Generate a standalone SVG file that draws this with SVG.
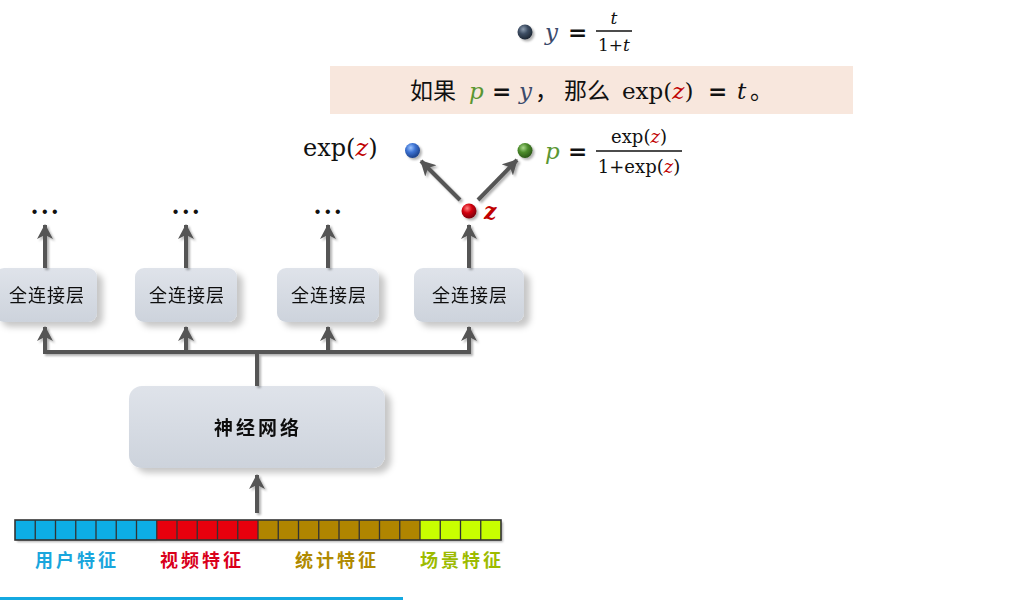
<svg xmlns="http://www.w3.org/2000/svg" width="1030" height="600" viewBox="0 0 1030 600">
<style>
.cjk{font-family:"Noto Sans CJK SC","Noto Sans",sans-serif}
.math{font-family:"DejaVu Serif","Liberation Serif",serif}
.it{font-style:italic}
.fc{font-size:18px;fill:#111;letter-spacing:1px}
.lab{font-size:18px;font-weight:bold;letter-spacing:3px}
.ln{fill:none;stroke:#555;stroke-width:4}
.box{stroke:none}
</style>
<defs>
<linearGradient id="gBox" x1="0" y1="0" x2="0" y2="1">
<stop offset="0" stop-color="#DFE3EA"/>
<stop offset="1" stop-color="#CDD3DC"/>
</linearGradient>
<radialGradient id="gRed" cx="0.38" cy="0.32" r="0.7">
<stop offset="0" stop-color="#FF8080"/><stop offset="0.45" stop-color="#D4000E"/><stop offset="1" stop-color="#7A0008"/>
</radialGradient>
<radialGradient id="gBlue" cx="0.38" cy="0.32" r="0.7">
<stop offset="0" stop-color="#9CC4FF"/><stop offset="0.45" stop-color="#3C72D2"/><stop offset="1" stop-color="#1B3F86"/>
</radialGradient>
<radialGradient id="gGreen" cx="0.38" cy="0.32" r="0.7">
<stop offset="0" stop-color="#A9D88A"/><stop offset="0.45" stop-color="#4C8C2C"/><stop offset="1" stop-color="#2A5616"/>
</radialGradient>
<radialGradient id="gDark" cx="0.38" cy="0.32" r="0.7">
<stop offset="0" stop-color="#8D9DB0"/><stop offset="0.45" stop-color="#3D4D63"/><stop offset="1" stop-color="#1D2734"/>
</radialGradient>
<filter id="sh" x="-20%" y="-20%" width="150%" height="160%">
<feDropShadow dx="6" dy="5" stdDeviation="3" flood-color="#000" flood-opacity="0.22"/>
</filter>
<filter id="shs" x="-50%" y="-50%" width="200%" height="200%">
<feDropShadow dx="2" dy="2" stdDeviation="1.2" flood-color="#000" flood-opacity="0.3"/>
</filter>
<marker id="ah" markerUnits="userSpaceOnUse" markerWidth="18" markerHeight="18" refX="14" refY="8" orient="auto">
<path d="M0,0 L15,8 L0,16 L4,8 Z" fill="#555"/>
</marker>
</defs>
<rect width="1030" height="600" fill="#fff"/>

<g id="formula-y">
<circle cx="525" cy="32" r="7.5" fill="url(#gDark)" filter="url(#shs)"/>
<text class="math it" x="545" y="40" font-size="23" fill="#3B4A6B">y</text>
<text class="math" x="568" y="40" font-size="23" font-weight="bold" fill="#111">=</text>
<text class="math it" x="614" y="24" font-size="17" fill="#111" text-anchor="middle">t</text>
<line x1="596" y1="31" x2="632" y2="31" stroke="#111" stroke-width="1.3"/>
<text class="math" x="614" y="51" font-size="17" fill="#111" text-anchor="middle">1+<tspan class="it">t</tspan></text>
</g>

<g id="note">
<rect x="330" y="66" width="523" height="48" fill="#F8E7DD"/>
<text y="99" font-size="23" fill="#111"><tspan class="cjk" x="410">如果</tspan><tspan class="math it" x="469" fill="#5A9632">p</tspan><tspan class="math" x="492" font-weight="bold">=</tspan><tspan class="math it" x="519" fill="#3B4A6B">y</tspan><tspan class="cjk" x="535">，</tspan><tspan class="cjk" x="564">那么</tspan><tspan class="math" x="622">exp(<tspan fill="#C00000" class="it">z</tspan>)</tspan><tspan class="math" x="708" font-weight="bold">=</tspan><tspan class="math it" x="737">t</tspan><tspan class="cjk" x="750">。</tspan></text>
</g>

<g id="expz">
<circle cx="412.5" cy="150.5" r="7.5" fill="url(#gBlue)" filter="url(#shs)"/>
<text class="math" x="303" y="156" font-size="24" fill="#111">exp(<tspan fill="#C00000" class="it">z</tspan>)</text>
</g>

<g id="p">
<circle cx="525" cy="150.5" r="7.5" fill="url(#gGreen)" filter="url(#shs)"/>
<text class="math it" x="545" y="159" font-size="23" fill="#5A9632">p</text>
<text class="math" x="568" y="159" font-size="23" font-weight="bold" fill="#111">=</text>
<text class="math" x="639" y="143" font-size="18" fill="#111" text-anchor="middle">exp(<tspan fill="#C00000" class="it">z</tspan>)</text>
<line x1="596" y1="151" x2="682" y2="151" stroke="#111" stroke-width="1.3"/>
<text class="math" x="639" y="173" font-size="18" fill="#111" text-anchor="middle">1+exp(<tspan fill="#C00000" class="it">z</tspan>)</text>
</g>

<g id="z">
<circle cx="469" cy="211" r="7.5" fill="url(#gRed)" filter="url(#shs)"/>
<text class="math it" x="484" y="219" font-size="22" font-weight="bold" fill="#C00000">z</text>
</g>

<g id="dots" font-family="Liberation Sans,Arial,sans-serif" font-size="16" fill="#111" letter-spacing="4.5" text-anchor="middle">
<text x="47" y="217">•••</text>
<text x="188" y="217">•••</text>
<text x="330" y="217">•••</text>
</g>

<g id="fc1" filter="url(#sh)">
<rect class="box" x="-5" y="268" width="102" height="54" rx="9" fill="url(#gBox)"/>
<text class="cjk fc" x="47" y="302" text-anchor="middle">全连接层</text>
</g>
<g id="fc2" filter="url(#sh)">
<rect class="box" x="135" y="268" width="102" height="54" rx="9" fill="url(#gBox)"/>
<text class="cjk fc" x="187" y="302" text-anchor="middle">全连接层</text>
</g>
<g id="fc3" filter="url(#sh)">
<rect class="box" x="277" y="268" width="102" height="54" rx="9" fill="url(#gBox)"/>
<text class="cjk fc" x="329" y="302" text-anchor="middle">全连接层</text>
</g>
<g id="fc4" filter="url(#sh)">
<rect class="box" x="414" y="268" width="110" height="54" rx="9" fill="url(#gBox)"/>
<text class="cjk fc" x="470" y="302" text-anchor="middle">全连接层</text>
</g>

<g id="nn" filter="url(#sh)">
<rect class="box" x="129" y="386" width="256" height="82" rx="13" fill="url(#gBox)"/>
<text class="cjk" x="258" y="435" font-size="19" font-weight="bold" fill="#111" text-anchor="middle" letter-spacing="3">神经网络</text>
</g>

<g id="features">
<g filter="url(#shs)">
<rect x="15" y="520" width="141.75" height="20" fill="#10AEE6"/>
<rect x="156.75" y="520" width="101.25" height="20" fill="#E8000B"/>
<rect x="258" y="520" width="162" height="20" fill="#B08500"/>
<rect x="420" y="520" width="81" height="20" fill="#C8FF00"/>
</g>
<path d="M35.25,520v20M55.5,520v20M75.75,520v20M96,520v20M116.25,520v20M136.5,520v20M156.75,520v20M177,520v20M197.25,520v20M217.5,520v20M237.75,520v20M258,520v20M278.25,520v20M298.5,520v20M318.75,520v20M339,520v20M359.25,520v20M379.5,520v20M399.75,520v20M420,520v20M440.25,520v20M460.5,520v20M480.75,520v20" stroke="#333" stroke-width="1.3"/>
<rect x="15" y="520" width="486" height="20" fill="none" stroke="#333" stroke-width="1.6"/>
<text class="cjk lab" x="35" y="567" fill="#1AA6DD">用户特征</text>
<text class="cjk lab" x="160" y="567" fill="#D9001B">视频特征</text>
<text class="cjk lab" x="295" y="567" fill="#B08A00">统计特征</text>
<text class="cjk lab" x="420" y="567" fill="#9DBB00">场景特征</text>
</g>

<g id="connectors" filter="url(#shs)">
<path class="ln" d="M257,513 V475" marker-end="url(#ah)"/>
<path class="ln" d="M257,386 V352 M43,352 H471"/>
<path class="ln" d="M45,354 V327" marker-end="url(#ah)"/>
<path class="ln" d="M186,354 V327" marker-end="url(#ah)"/>
<path class="ln" d="M328,354 V327" marker-end="url(#ah)"/>
<path class="ln" d="M469,354 V327" marker-end="url(#ah)"/>
<path class="ln" d="M45,268 V225" marker-end="url(#ah)"/>
<path class="ln" d="M186,268 V225" marker-end="url(#ah)"/>
<path class="ln" d="M328,268 V225" marker-end="url(#ah)"/>
<path class="ln" d="M469,268 V225" marker-end="url(#ah)"/>
<path class="ln" d="M460,200 L421,161" marker-end="url(#ah)"/>
<path class="ln" d="M478,200 L517,160" marker-end="url(#ah)"/>
</g>

<rect id="underline" x="0" y="597" width="403" height="3" fill="#14A9E1"/>
</svg>
